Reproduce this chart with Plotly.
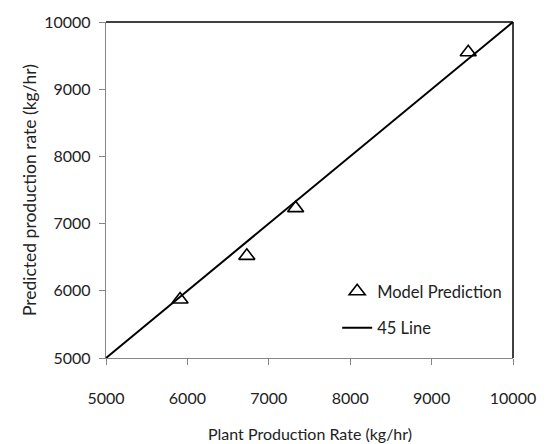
import plotly.graph_objects as go

# Data
plant_rate = [5910, 6730, 7330, 9450]
predicted_rate = [5870, 6520, 7230, 9550]
line_x = [5000, 10000]
line_y = [5000, 10000]
tick_vals = [5000, 6000, 7000, 8000, 9000, 10000]
tick_text = ["5000", "6000", "7000", "8000", "9000", "10000"]

FONT = "Lato"
AX = "#868686"
TXT = "#222222"

fig = go.Figure()
fig.add_trace(go.Scatter(
    x=plant_rate, y=predicted_rate, mode="markers", name="Model Prediction",
    legendgroup="a",
    marker=dict(symbol="triangle-up-open", size=14, color="black",
                line=dict(color="black", width=1.6)),
))
fig.add_trace(go.Scatter(
    x=line_x, y=line_y, mode="lines", name="45 Line", legendgroup="b",
    line=dict(color="black", width=2),
))

axis_common = dict(
    showgrid=False, zeroline=False, showline=True, linecolor=AX, linewidth=1.3,
    ticks="outside", ticklen=6, tickcolor=AX, tickwidth=1,
    tickvals=tick_vals, ticktext=tick_text,
    tickfont=dict(family=FONT, size=16, color=TXT),
)
fig.update_xaxes(range=[5000, 10000], ticklabelstandoff=20, **axis_common)
fig.update_yaxes(range=[5000, 10000], ticklabelstandoff=5, **axis_common)

fig.update_layout(
    width=548, height=444,
    margin=dict(l=106, r=25, t=21, b=86),
    paper_bgcolor="white", plot_bgcolor="white",
    font=dict(family=FONT, color=TXT),
    showlegend=True,
    legend=dict(x=0.568, y=0.25, xanchor="left", yanchor="top",
                bgcolor="rgba(0,0,0,0)", borderwidth=0,
                font=dict(family=FONT, size=16.5, color=TXT),
                tracegroupgap=12),
    shapes=[
        dict(type="line", xref="paper", yref="paper", x0=0, y0=1, x1=1, y1=1,
             line=dict(color="black", width=1.5)),
        dict(type="line", xref="paper", yref="paper", x0=1, y0=0, x1=1, y1=1,
             line=dict(color="black", width=1.5)),
    ],
    annotations=[
        dict(text="Plant Production Rate (kg/hr)", xref="paper", yref="paper",
             x=0.5, y=-0.224, xanchor="center", yanchor="middle", showarrow=False,
             font=dict(family=FONT, size=16, color=TXT)),
        dict(text="Predicted production rate (kg/hr)", xref="paper", yref="paper",
             x=-0.189, y=0.5, xanchor="center", yanchor="middle", showarrow=False,
             textangle=-90,
             font=dict(family=FONT, size=17.5, color=TXT)),
    ],
)

fig.write_html("out.html")
